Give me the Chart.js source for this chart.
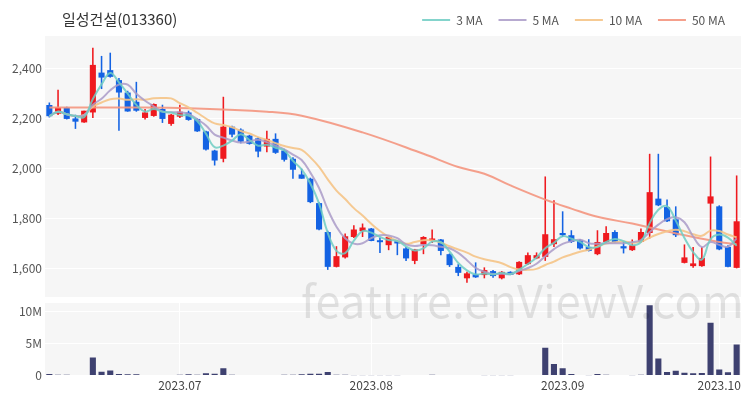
<!DOCTYPE html>
<html>
<head>
<meta charset="utf-8">
<script src="https://cdn.jsdelivr.net/npm/chart.js@4.4.0/dist/chart.umd.min.js"></script>
<style>
  body { margin: 0; background: #fff; font-family: "Noto Sans CJK KR", "Noto Sans", sans-serif; }
  #wrap { position: relative; width: 750px; height: 400px; }
  #title { position: absolute; left: 62px; top: 8px; font-size: 15px; color: #333; }
  #price { position: absolute; left: 0; top: 0; }
  #vol { position: absolute; left: 0; top: 300px; }
  #mark { position: absolute; left: 301px; top: 266px; font-size: 45px; color: rgba(0,0,0,0.1); pointer-events: none; letter-spacing: 0.3px; }
</style>
</head>
<body>
<div id="wrap">
  <canvas id="price" width="750" height="300"></canvas>
  <canvas id="vol" width="750" height="100"></canvas>
  <div id="title">일성건설(013360)</div>
  <div id="mark">feature.enViewV.com</div>
</div>
<script>
const dates = [
  '2023-06-12','2023-06-13','2023-06-14','2023-06-15','2023-06-16','2023-06-19','2023-06-20','2023-06-21','2023-06-22','2023-06-23',
  '2023-06-26','2023-06-27','2023-06-28','2023-06-29','2023-06-30','2023-07-03','2023-07-04','2023-07-05','2023-07-06','2023-07-07',
  '2023-07-10','2023-07-11','2023-07-12','2023-07-13','2023-07-14','2023-07-17','2023-07-18','2023-07-19','2023-07-20','2023-07-21',
  '2023-07-24','2023-07-25','2023-07-26','2023-07-27','2023-07-28','2023-07-31','2023-08-01','2023-08-02','2023-08-03','2023-08-04',
  '2023-08-07','2023-08-08','2023-08-09','2023-08-10','2023-08-11','2023-08-14','2023-08-16','2023-08-17','2023-08-18','2023-08-21',
  '2023-08-22','2023-08-23','2023-08-24','2023-08-25','2023-08-28','2023-08-29','2023-08-30','2023-08-31','2023-09-01','2023-09-04',
  '2023-09-05','2023-09-06','2023-09-07','2023-09-08','2023-09-11','2023-09-12','2023-09-13','2023-09-14','2023-09-15','2023-09-18',
  '2023-09-19','2023-09-20','2023-09-21','2023-09-22','2023-09-25','2023-09-26','2023-09-27','2023-10-04','2023-10-05','2023-10-06'
];
const openP = [
  2255,2220,2245,2201,2185,2225,2385,2395,2355,2305, 2268,2203,2211,2239,2179,2208,2225,2199,2149,2072,
  2039,2168,2156,2132,2121,2088,2119,2072,2039,1976, 1959,1861,1745,1605,1643,1725,1748,1759,1712,1692,
  1708,1679,1629,1695,1709,1715,1656,1605,1559,1575, 1572,1588,1559,1585,1575,1616,1639,1645,1696,1741,
  1732,1712,1685,1656,1705,1745,1688,1672,1705,1741, 1879,1845,1796,1621,1608,1608,1859,1848,1685,1601
];
const highP = [
  2265,2316,2248,2216,2232,2485,2452,2465,2363,2312, 2348,2239,2261,2256,2219,2256,2232,2201,2152,2075,
  2288,2172,2161,2135,2125,2152,2141,2079,2045,1999, 1963,1864,1750,1688,1739,1772,1779,1761,1723,1728,
  1712,1685,1677,1728,1755,1717,1659,1616,1585,1623, 1603,1592,1588,1587,1628,1663,1663,1968,1872,1828,
  1752,1716,1716,1752,1768,1752,1705,1715,1759,2059, 2059,1875,1848,1695,1685,1685,2048,1852,1692,1972
];
const lowP = [
  2205,2215,2197,2159,2184,2203,2319,2365,2152,2228, 2228,2197,2208,2183,2172,2203,2192,2147,2072,2012,
  2025,2125,2101,2096,2045,2065,2059,2028,1959,1959, 1861,1752,1593,1603,1639,1721,1725,1708,1661,1672,
  1652,1629,1616,1656,1701,1652,1605,1568,1541,1561, 1559,1561,1555,1572,1572,1612,1636,1629,1685,1725,
  1701,1675,1667,1652,1701,1701,1659,1669,1703,1719, 1849,1785,1725,1619,1601,1605,1712,1672,1603,1599
];
const closeP = [
  2210,2245,2199,2188,2232,2416,2365,2368,2305,2229, 2232,2225,2259,2199,2216,2228,2195,2149,2076,2032,
  2168,2136,2108,2099,2068,2119,2063,2035,1995,1959, 1865,1755,1605,1648,1728,1755,1763,1709,1704,1725,
  1699,1639,1675,1725,1719,1669,1612,1581,1579,1563, 1592,1568,1585,1573,1625,1652,1652,1736,1716,1732,
  1705,1679,1669,1705,1741,1705,1679,1692,1745,1905, 1852,1788,1732,1643,1619,1641,1888,1675,1605,1788
];
// volume, millions of shares
const volume = [
  0.25,0.15,0.12,0.1,0.1,2.8,0.6,0.8,0.25,0.2, 0.2,0.1,0.08,0.08,0.1,0.12,0.2,0.15,0.35,0.3,
  1.15,0.15,0.08,0.08,0.08,0.1,0.1,0.12,0.15,0.2, 0.3,0.3,0.55,0.15,0.12,0.05,0.05,0.05,0.05,0.05,
  0.05,0.1,0.1,0.1,0.12,0.1,0.1,0.1,0.08,0.08, 0.05,0.05,0.05,0.05,0.08,0.1,0.1,4.3,1.8,1.15,
  0.25,0.1,0.05,0.25,0.15,0.1,0.1,0.05,0.15,10.9, 2.65,0.55,0.75,0.45,0.35,0.4,8.2,0.95,0.5,4.8
];
// 50-day average at a few dates
const ma50Dates = ['2023-06-12','2023-06-26','2023-07-04','2023-07-17','2023-07-21','2023-08-01','2023-08-10','2023-08-17','2023-08-22','2023-08-25','2023-08-31','2023-09-05','2023-09-08','2023-09-14','2023-09-18','2023-09-25','2023-10-04','2023-10-06'];
const ma50Vals  = [2245,2245,2242,2228,2212,2145,2059,2006,1979,1932,1875,1839,1806,1779,1763,1725,1705,1696];

const priceTicks = [1600, 1800, 2000, 2200, 2400];
const volTicks = [0, 5, 10];
const tickDates = ['2023-07-03', '2023-08-02', '2023-09-04', '2023-10-04'];
const tickLabels = ['2023.07', '2023.08', '2023.09', '2023.10'];

const UP = '#ef1a1f', DOWN = '#1463e3';
const candleColor = openP.map((o, i) => closeP[i] >= o ? UP : DOWN);

function movingAvg(arr, n) {
  return arr.map((_, i) => {
    const s = arr.slice(Math.max(0, i - n + 1), i + 1);
    return s.reduce((a, b) => a + b, 0) / s.length;
  });
}
const ma50 = dates.map(d => {
  const k = ma50Dates.indexOf(d);
  return k >= 0 ? ma50Vals[k] : null;
});

const areaBg = {
  id: 'areaBg',
  beforeDraw(chart) {
    const { ctx, chartArea: a } = chart;
    ctx.save();
    ctx.fillStyle = '#f6f6f6';
    ctx.fillRect(a.left, a.top, a.right - a.left, a.bottom - a.top);
    ctx.restore();
  }
};

// keep the y axis from reserving room for half a label at each end
function fitY(s) {
  s.width = 45;
  s.paddingTop = 0;
  s.paddingBottom = 0;
}

function maLine(label, data, color) {
  return {
    type: 'line', label: label, data: data,
    borderColor: color, backgroundColor: color, borderWidth: 2,
    pointRadius: 0, tension: 0.4, spanGaps: true, order: 0
  };
}

new Chart(document.getElementById('price').getContext('2d'), {
  data: {
    labels: dates,
    datasets: [
      maLine('3 MA', movingAvg(closeP, 3), 'rgba(110,205,195,0.85)'),
      maLine('5 MA', movingAvg(closeP, 5), 'rgba(170,155,200,0.85)'),
      maLine('10 MA', movingAvg(closeP, 10), 'rgba(245,196,135,0.9)'),
      maLine('50 MA', ma50, 'rgba(244,150,128,0.9)'),
      {
        type: 'bar', label: 'wick', data: lowP.map((l, i) => [l, highP[i]]),
        backgroundColor: candleColor, grouped: false, order: 1,
        barPercentage: 0.18, categoryPercentage: 1
      },
      {
        type: 'bar', label: 'body', data: openP.map((o, i) => [o, closeP[i]]),
        backgroundColor: candleColor, grouped: false, order: 1, minBarLength: 1,
        barPercentage: 0.7, categoryPercentage: 1
      }
    ]
  },
  options: {
    responsive: false, animation: false,
    layout: { padding: { left: 0, right: 9, top: -2, bottom: 3 } },
    plugins: {
      legend: {
        position: 'top', align: 'end',
        labels: {
          filter: item => item.datasetIndex < 4,
          usePointStyle: true, pointStyle: 'line', pointStyleWidth: 28,
          color: '#555', font: { size: 12, family: '"Noto Sans CJK KR", sans-serif' },
          padding: 16
        }
      },
      tooltip: { enabled: false }
    },
    scales: {
      x: { display: false, offset: true, grid: { display: false } },
      y: {
        min: 1484, max: 2532,
        afterFit: fitY,
        afterBuildTicks(s) { s.ticks = priceTicks.map(v => ({ value: v })); },
        ticks: { callback: v => v.toLocaleString('en-US'), color: '#555', padding: 3,
                 font: { size: 12, family: '"Noto Sans CJK KR", sans-serif' } },
        grid: { color: '#ffffff', drawTicks: false },
        border: { display: false }
      }
    }
  },
  plugins: [areaBg]
});

new Chart(document.getElementById('vol').getContext('2d'), {
  type: 'bar',
  data: {
    labels: dates,
    datasets: [{
      label: 'Volume', data: volume, backgroundColor: '#3e4170',
      barPercentage: 0.7, categoryPercentage: 1
    }]
  },
  options: {
    responsive: false, animation: false,
    layout: { padding: { left: 0, right: 9, top: 3, bottom: 4 } },
    plugins: { legend: { display: false }, tooltip: { enabled: false } },
    scales: {
      x: {
        offset: true,
        afterBuildTicks(s) { s.ticks = tickDates.map(d => ({ value: dates.indexOf(d) })); },
        ticks: { autoSkip: false, maxRotation: 0, padding: 3, color: '#444',
                 callback: (v, i) => tickLabels[i],
                 font: { size: 12, family: '"Noto Sans CJK KR", sans-serif' } },
        grid: { color: '#ffffff', drawTicks: false, offset: false },
        border: { display: false }
      },
      y: {
        min: 0, max: 11.25,
        afterFit: fitY,
        afterBuildTicks(s) { s.ticks = volTicks.map(v => ({ value: v })); },
        ticks: { callback: v => v ? v + 'M' : '0', color: '#555', padding: 3,
                 font: { size: 12, family: '"Noto Sans CJK KR", sans-serif' } },
        grid: { color: '#ffffff', drawTicks: false },
        border: { display: false }
      }
    }
  },
  plugins: [areaBg]
});
</script>
</body>
</html>
